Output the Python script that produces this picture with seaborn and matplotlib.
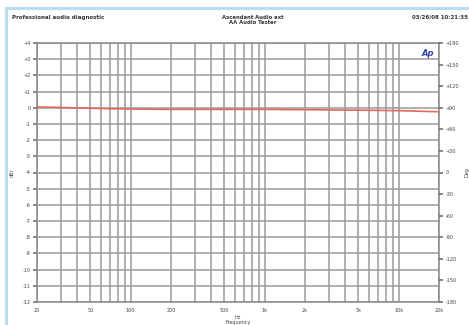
import numpy as np
import pandas as pd
import matplotlib
matplotlib.use("Agg")
import matplotlib.pyplot as plt
from matplotlib.patches import Rectangle
import seaborn as sns

# ---- data ----
freq_hz = [20, 30, 50, 70, 100, 200, 500, 1000, 2000, 5000, 10000, 15000, 20000]
level_db = [0.05, 0.02, -0.03, -0.06, -0.08, -0.1, -0.1, -0.1, -0.12, -0.15, -0.18, -0.22, -0.25]
x_tick_vals = [20, 50, 100, 200, 500, 1000, 2000, 5000, 10000, 20000]
x_tick_labels = ["20", "50", "100", "200", "500", "1k", "2k", "5k", "10k", "20k"]
left_ticks = list(range(4, -13, -1))
left_labels = [("+%d" % v if v > 0 else "%d" % v) for v in left_ticks]
right_ticks = list(range(180, -181, -30))
right_labels = [("+%d" % v if v > 0 else "%d" % v) for v in right_ticks]
minor_freqs = [f * m for f in (10, 100, 1000, 10000) for m in range(2, 10) if 20 <= f * m <= 20000]

sns.set_style("white")
plt.rcParams["font.family"] = ["DejaVu Sans"]

fig = plt.figure(figsize=(4.69, 3.25), dpi=100)
fig.patch.set_facecolor("white")
# light blue frame
fig.patches.append(Rectangle((6 / 469, -0.05), 1.2, 1 - 7.5 / 325 + 0.05, transform=fig.transFigure,
                             fill=False, edgecolor="#b8dcf0", linewidth=2.2, zorder=0))

ax = fig.add_axes([37 / 469, 1 - 302 / 325, (439 - 37) / 469, (302 - 43) / 325])
ax.set_xscale("log")
ax.set_xlim(20, 20000)
ax.set_ylim(-12, 4)

grid_col = "#9c9898"
for f in minor_freqs + [100, 1000, 10000]:
    ax.axvline(f, color=grid_col, lw=1.1, zorder=1)
for v in left_ticks:
    ax.axhline(v, color=grid_col, lw=1.1, zorder=1)

df = pd.DataFrame({"freq": freq_hz, "level": level_db})
sns.lineplot(data=df, x="freq", y="level", ax=ax, color="#e06a5a", lw=1.2, zorder=3)

ax.set_xticks(x_tick_vals)
ax.set_xticklabels(x_tick_labels)
ax.xaxis.set_minor_locator(matplotlib.ticker.NullLocator())
ax.set_yticks(left_ticks)
ax.set_yticklabels(left_labels)
ax.tick_params(axis="both", labelsize=3.5, colors="#666666", labelcolor="#444444",
               length=3, width=1.1, pad=1.5, direction="out")
for s in ax.spines.values():
    s.set_color("#888888")
    s.set_linewidth(1.1)
ax.set_xlabel("Hz\nFrequency", fontsize=3.5, color="#444444", labelpad=1)
ax.set_ylabel("dBr", fontsize=3.5, color="#444444", labelpad=6)

ax2 = ax.twinx()
ax2.set_ylim(-180, 180)
ax2.set_yticks(right_ticks)
ax2.set_yticklabels(right_labels)
ax2.tick_params(axis="y", labelsize=3.5, colors="#666666", labelcolor="#444444",
                length=3, width=1.1, pad=2)
for s in ax2.spines.values():
    s.set_visible(False)
ax2.set_ylabel("Deg", fontsize=3.5, color="#444444", labelpad=4)

# header text
fig.text(12 / 469, 1 - 17 / 325, "Professional audio diagnostic", fontsize=4, fontweight="bold",
         color="#333333", va="center", ha="left")
fig.text(253 / 469, 1 - 20 / 325, "Ascendant Audio ext\nAA Audio Tester", fontsize=3.8,
         fontweight="bold", color="#333333", va="center", ha="center", linespacing=1.1)
fig.text(412 / 469, 1 - 17 / 325, "03/26/08 10:21:35", fontsize=4, fontweight="bold",
         color="#333333", va="center", ha="left")
# logo
ax.text(0.972, 0.975, "Ap", transform=ax.transAxes, fontsize=6, fontweight="bold",
        fontstyle="italic", color="#3344aa", ha="center", va="top", zorder=5)

fig.savefig("out.png", dpi=100, facecolor="white")
